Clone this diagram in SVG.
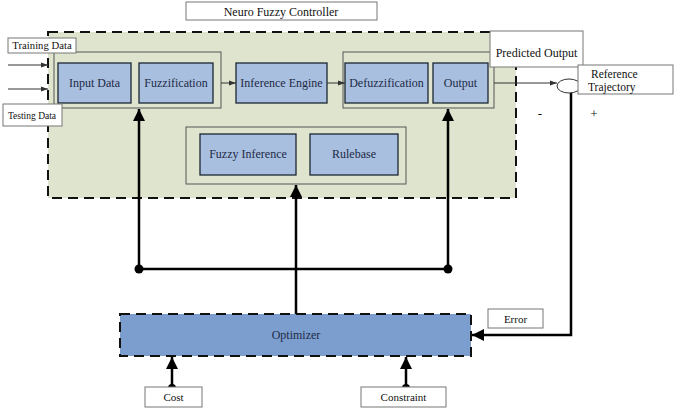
<svg xmlns="http://www.w3.org/2000/svg" width="678" height="408" viewBox="0 0 678 408" font-family="'Liberation Serif', 'Times New Roman', serif">
<defs>
<style>
text{font-family:'Liberation Serif','Times New Roman',serif;fill:#111;}
.lbl{fill:#fff;stroke:#777;stroke-width:1;}
.blue{fill:#a8bfe0;stroke:#1c2533;stroke-width:1.3;}
.grp{fill:none;stroke:#555;stroke-width:1;}
.btxt{font-size:12px;fill:#1e2a44;text-anchor:middle;}
.thin{stroke:#333;stroke-width:1;fill:none;}
.thick{stroke:#000;stroke-width:2.5;fill:none;}
</style>
<marker id="ah" markerWidth="8" markerHeight="8" refX="7" refY="4" orient="auto" markerUnits="userSpaceOnUse"><path d="M0,1.5 L7,4 L0,6.5 Z" fill="#333"/></marker>
<marker id="big" markerWidth="14" markerHeight="14" refX="12" refY="6" orient="auto" markerUnits="userSpaceOnUse"><path d="M0,0 L12,6 L0,12 Z" fill="#000"/></marker>
</defs>
<rect width="678" height="408" fill="#fff"/>

<g id="controller-region">
<rect x="48" y="32" width="468" height="166" fill="#dfe4cf" stroke="#111" stroke-width="2" stroke-dasharray="10,6"/>
</g>

<g id="title"><rect class="lbl" x="186" y="2" width="191" height="18"/><text x="281" y="15.5" font-size="12" text-anchor="middle">Neuro Fuzzy Controller</text></g>

<g id="group-in"><rect class="grp" x="54" y="52" width="167" height="56"/></g>
<g id="group-out"><rect class="grp" x="343" y="52" width="151" height="56"/></g>
<g id="group-rules"><rect class="grp" x="186" y="127" width="220" height="57"/></g>

<g id="input-data"><rect class="blue" x="58" y="63" width="73" height="40"/><text class="btxt" x="94.5" y="87">Input Data</text></g>
<g id="fuzzification"><rect class="blue" x="139" y="63" width="74" height="40"/><text class="btxt" x="176" y="87">Fuzzification</text></g>
<g id="inference-engine"><rect class="blue" x="236" y="63" width="91" height="40"/><text class="btxt" x="281.5" y="87">Inference Engine</text></g>
<g id="defuzzification"><rect class="blue" x="345" y="63" width="83" height="40"/><text class="btxt" x="386.5" y="87">Defuzzification</text></g>
<g id="output"><rect class="blue" x="433" y="63" width="55" height="40"/><text class="btxt" x="460.5" y="87">Output</text></g>
<g id="fuzzy-inference"><rect class="blue" x="200" y="134" width="96" height="41"/><text class="btxt" x="248" y="158">Fuzzy Inference</text></g>
<g id="rulebase"><rect class="blue" x="310" y="134" width="88" height="41"/><text class="btxt" x="354" y="158">Rulebase</text></g>

<g id="optimizer"><rect x="120" y="314" width="351" height="42" fill="#7c9ecf" stroke="#111" stroke-width="2" stroke-dasharray="10,6"/><text class="btxt" x="296" y="339" font-size="11">Optimizer</text></g>

<g id="connectors">
<line class="thin" x1="8" y1="65" x2="48" y2="65" marker-end="url(#ah)"/>
<line class="thin" x1="8" y1="89" x2="48" y2="89" marker-end="url(#ah)"/>
<line class="thin" x1="221" y1="83" x2="236" y2="83" marker-end="url(#ah)"/>
<line class="thin" x1="327" y1="83" x2="345" y2="83" marker-end="url(#ah)"/>
<line class="thin" x1="494" y1="83" x2="557" y2="83" marker-end="url(#ah)"/>
<path class="thick" d="M139,269 L139,109" marker-end="url(#big)"/>
<path class="thick" d="M448,269 L448,109" marker-end="url(#big)"/>
<line class="thick" x1="139" y1="269" x2="448" y2="269"/>
<circle cx="139" cy="269" r="4.5" fill="#000"/>
<circle cx="448" cy="269" r="4.5" fill="#000"/>
<path class="thick" d="M296,314 L296,185" marker-end="url(#big)"/>
<path class="thick" d="M571,92 L571,335 L472,335" marker-end="url(#big)"/>
<path class="thick" d="M172,387 L172,357" marker-end="url(#big)"/>
<path class="thick" d="M406,387 L406,357" marker-end="url(#big)"/>
<circle cx="172" cy="388" r="4" fill="#000"/>
<circle cx="406" cy="388" r="4" fill="#000"/>
</g>

<g id="summing-junction"><ellipse cx="569" cy="86" rx="12" ry="7" fill="#fff" stroke="#333" stroke-width="1"/></g>

<g id="training-data"><rect class="lbl" x="8" y="38" width="68" height="15"/><text x="42" y="49" font-size="10.7" text-anchor="middle">Training Data</text></g>
<g id="testing-data"><rect class="lbl" x="3" y="104" width="59" height="22"/><text x="32" y="119" font-size="9.5" text-anchor="middle">Testing Data</text></g>
<g id="predicted-output"><rect class="lbl" x="490" y="31" width="93" height="36"/><text x="536.5" y="57" font-size="12" text-anchor="middle">Predicted Output</text></g>
<g id="reference-trajectory"><rect class="lbl" x="578" y="65" width="95" height="29"/><text x="591" y="78" font-size="11.5">Reference</text><text x="588" y="91" font-size="11.5">Trajectory</text></g>
<g id="signs"><text x="540" y="118" font-size="13" text-anchor="middle">-</text><text x="594" y="118" font-size="13" text-anchor="middle">+</text></g>
<g id="error"><rect class="lbl" x="488" y="309" width="55" height="19"/><text x="515.5" y="323" font-size="11" text-anchor="middle">Error</text></g>
<g id="cost"><rect class="lbl" x="145" y="387" width="57" height="20"/><text x="173.5" y="401" font-size="11" text-anchor="middle">Cost</text></g>
<g id="constraint"><rect class="lbl" x="361" y="387" width="85" height="20"/><text x="403.5" y="401" font-size="11" text-anchor="middle">Constraint</text></g>
</svg>
